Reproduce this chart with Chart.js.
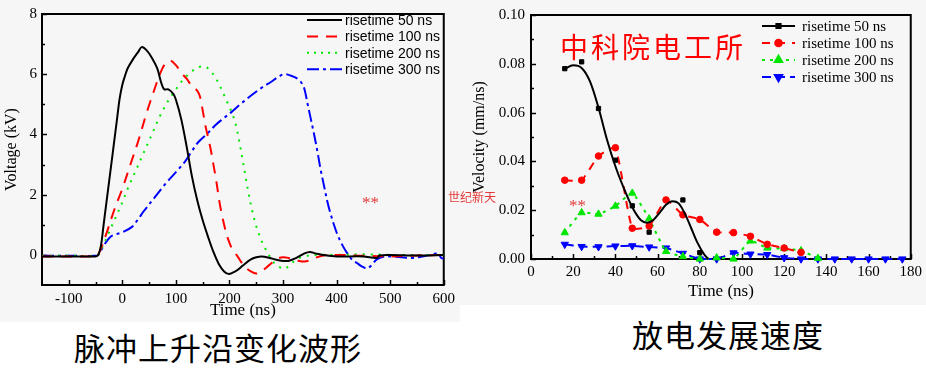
<!DOCTYPE html>
<html>
<head>
<meta charset="utf-8">
<script src="https://cdn.jsdelivr.net/npm/chart.js@4.4.1/dist/chart.umd.min.js"></script>
<style>
    html, body { margin: 0; padding: 0; background: #fff; }
    #page { position: relative; width: 926px; height: 382px; overflow: hidden; background: #fff; }
    .panel { position: absolute; background: #f6f6f6; }
    #leftPanel { left: 0; top: 0; width: 460px; height: 322px; }
    #rightPanel { left: 460px; top: 0; width: 466px; height: 305px; }
    .txt { position: absolute; white-space: nowrap; line-height: 1; }
    .cap { font-family: 'Noto Sans CJK SC', sans-serif; font-size: 31px; color: #000; letter-spacing: 1px; }
    .mark { font-family: 'Noto Sans CJK SC', sans-serif; font-size: 12px; color: #e23a3a; }
    .star { font-family: 'Liberation Serif', serif; font-size: 17px; color: #e23a3a; }
</style>
</head>
<body>
<div id="page">
    <div class="panel" id="leftPanel"><canvas id="waveChart" width="460" height="322"></canvas></div>
    <div class="panel" id="rightPanel"><canvas id="speedChart" width="466" height="305"></canvas></div>

    <div class="txt star" style="left:362px; top:194px;">**</div>
    <div class="txt mark" style="left:448px; top:191px;">世纪新天</div>
    <div class="txt star" style="left:569px; top:197px;">**</div>
    <div class="txt" style="left:560px; top:32px; font-family:'Noto Sans CJK SC'; font-size:28px; color:#ff0000; letter-spacing:3px;">中科院电工所</div>

    <div class="txt cap" style="left:74px; top:331px;">脉冲上升沿变化波形</div>
    <div class="txt cap" style="left:632px; top:318px;">放电发展速度</div>
</div>

<script>
// ---- 左圖：脈衝上升沿波形 ----
const seriesLabels = ['risetime 50 ns', 'risetime 100 ns', 'risetime 200 ns', 'risetime 300 ns'];

const waveT50 = [-150, -100, -50, -45, -40, -35, -30, -25, -20, -15, -10, -5, 0, 5, 10, 20, 30, 36, 45, 55, 65, 72, 78, 86, 95, 100, 110, 120, 130, 140, 150, 160, 170, 180, 190, 198, 205, 215, 225, 240, 250, 260, 275, 285, 300, 310, 325, 340, 350, 360, 375, 400, 450, 475, 480, 500, 550, 600];
const waveV50 = [-0.05, -0.05, -0.05, 0, 0.3, 1.0, 1.7, 2.4, 3.1, 3.8, 4.5, 5.2, 5.65, 5.95, 6.2, 6.5, 6.75, 6.9, 6.8, 6.55, 6.2, 5.75, 5.5, 5.5, 5.35, 5.15, 4.5, 3.6, 2.6, 1.8, 1.15, 0.6, 0.1, -0.3, -0.55, -0.63, -0.6, -0.5, -0.35, -0.15, -0.08, -0.05, -0.1, -0.15, -0.2, -0.2, -0.1, 0.05, 0.1, 0.05, 0, -0.05, -0.05, -0.1, -0.02, 0, -0.02, 0];

const waveT100 = [-150, -100, -50, -45, -30, -15, 0, 15, 30, 45, 60, 70, 80, 90, 100, 110, 120, 130, 140, 145, 150, 155, 160, 165, 170, 175, 180, 185, 190, 195, 200, 205, 215, 228, 240, 250, 260, 270, 280, 290, 300, 310, 320, 330, 340, 350, 360, 375, 400, 450, 500, 550, 600];
const waveV100 = [-0.05, -0.05, -0.05, 0, 0.7, 1.5, 2.2, 3.0, 3.8, 4.7, 5.5, 6.0, 6.35, 6.45, 6.3, 6.05, 5.85, 5.6, 5.45, 5.25, 4.8, 4.3, 3.9, 3.5, 3.0, 2.5, 1.9, 1.4, 1.0, 0.65, 0.4, 0.2, -0.05, -0.38, -0.55, -0.62, -0.55, -0.4, -0.25, -0.12, -0.08, -0.1, -0.15, -0.2, -0.22, -0.18, -0.1, -0.02, 0, -0.03, -0.05, -0.02, 0];

const waveT200 = [-150, -100, -50, -45, -35, -25, -15, 0, 10, 25, 40, 55, 70, 85, 100, 115, 130, 145, 155, 165, 175, 185, 195, 205, 212, 218, 224, 230, 236, 242, 250, 258, 265, 275, 285, 295, 302, 312, 325, 340, 360, 400, 450, 500, 600];
const waveV200 = [-0.03, -0.03, -0.03, 0, 0.35, 0.75, 1.15, 1.75, 2.2, 2.8, 3.4, 4.0, 4.6, 5.1, 5.5, 5.85, 6.1, 6.25, 6.25, 6.1, 5.85, 5.5, 5.1, 4.7, 4.3, 3.8, 3.2, 2.6, 2.0, 1.5, 0.95, 0.55, 0.27, -0.05, -0.3, -0.42, -0.47, -0.35, -0.15, -0.05, 0, 0, 0.02, 0, 0];

const waveT300 = [-150, -100, -50, -45, -35, -25, -18, 0, 18, 30, 40, 60, 80, 100, 117, 130, 142, 160, 173, 190, 204, 220, 241, 260, 278, 290, 302, 315, 327, 335, 340, 346, 352, 358, 364, 370, 377, 383, 389, 395, 401, 410, 420, 430, 438, 447, 457, 465, 475, 490, 500, 520, 543, 560, 580, 590, 595, 600];
const waveV300 = [-0.03, -0.03, -0.03, 0, 0.3, 0.55, 0.65, 0.75, 0.93, 1.2, 1.45, 1.9, 2.35, 2.75, 3.1, 3.45, 3.75, 4.05, 4.3, 4.55, 4.75, 5.0, 5.3, 5.55, 5.75, 5.9, 6.0, 5.95, 5.85, 5.7, 5.5, 5.0, 4.5, 4.0, 3.45, 2.85, 2.25, 1.75, 1.35, 1.0, 0.7, 0.35, 0.05, -0.18, -0.27, -0.38, -0.45, -0.35, -0.15, -0.05, -0.05, -0.08, -0.1, -0.05, 0.02, 0.05, -0.1, -0.12];

const waveXTicks = [-100, 0, 100, 200, 300, 400, 500, 600];
const waveXMinor = [-50, 50, 150, 250, 350, 450, 550];
const waveYTicks = [0, 2, 4, 6, 8];
const waveYMinor = [1, 3, 5, 7];

// ---- 右圖：放電發展速度 ----
const vel50Time = [16, 24, 32, 40, 48, 56, 72, 80];
const vel50 = [0.078, 0.0808, 0.0617, 0.0405, 0.0218, 0.011, 0.0242, 0.0026];
const vel50FitTime = [16, 20, 24, 28, 32, 36, 40, 44, 48, 52, 55, 58, 61, 64, 67, 70, 73, 76, 79, 82, 84];
const vel50Fit = [0.078, 0.0794, 0.0783, 0.0727, 0.062, 0.049, 0.038, 0.029, 0.0212, 0.016, 0.0149, 0.016, 0.019, 0.0222, 0.0237, 0.0228, 0.0185, 0.0125, 0.0065, 0.002, 0];

const vel100Time = [16, 24, 32, 40, 48, 56, 64, 72, 80, 88, 96, 104, 112, 120, 128];
const vel100 = [0.0323, 0.0323, 0.0422, 0.0456, 0.0126, 0.0135, 0.0242, 0.0181, 0.0162, 0.011, 0.0108, 0.0093, 0.006, 0.0045, 0.0027];

const vel200Time = [16, 24, 32, 40, 48, 56, 64, 72, 80, 88, 96, 104, 112, 120, 128, 136];
const vel200 = [0.0108, 0.019, 0.0184, 0.0217, 0.027, 0.0165, 0.0031, 0.001, 0, 0.0005, 0, 0.0074, 0.0045, 0.0043, 0.0034, 0.0003];

const vel300Time = [16, 24, 32, 40, 48, 56, 64, 72, 80, 88, 96, 104, 112, 120, 128, 136, 144, 152, 160, 168, 176];
const vel300 = [0.006, 0.0051, 0.005, 0.0053, 0.0054, 0.0049, 0.0045, 0.0023, 0, 0, 0.0025, 0.002, 0.0018, 0.0005, 0, 0, 0, 0, 0, 0, 0];

const velXTicks = [0, 20, 40, 60, 80, 100, 120, 140, 160, 180];
const velXMinor = [10, 30, 50, 70, 90, 110, 130, 150, 170];
const velYTicks = [0, 0.02, 0.04, 0.06, 0.08, 0.10];
const velYMinor = [0.01, 0.03, 0.05, 0.07, 0.09];

const pts = (xs, ys) => xs.map((x, i) => ({ x: x, y: ys[i] }));

const SERIF = "'Liberation Serif', 'Times New Roman', serif";
const SANS = "'Liberation Sans', Arial, sans-serif";
const GREEN = '#00e600';

Chart.defaults.font.family = SERIF;
Chart.defaults.color = '#000';

// 內向刻度 + 外框
const frameTicks = {
    id: 'frameTicks',
    beforeDatasetsDraw(chart, args, opts) {
        const { ctx, chartArea: a, scales: { x, y } } = chart;
        ctx.save();
        ctx.strokeStyle = '#000';
        ctx.lineWidth = 1.5;
        const tick = (scale, vals, len) => vals.forEach(v => {
            const p = Math.round(scale.getPixelForValue(v)) + 0.5;
            ctx.beginPath();
            if (scale.axis === 'x') { ctx.moveTo(p, a.bottom); ctx.lineTo(p, a.bottom - len); }
            else { ctx.moveTo(a.left, p); ctx.lineTo(a.left + len, p); }
            ctx.stroke();
        });
        tick(x, opts.xMajor, 5);
        tick(x, opts.xMinor, 3);
        tick(y, opts.yMajor, 5);
        tick(y, opts.yMinor, 3);
        ctx.lineWidth = 2;
        ctx.strokeRect(a.left, a.top, a.width, a.height);
        ctx.restore();
    }
};

// 圖例：線段 (+ 標記點) + 文字
const lineLegend = {
    id: 'lineLegend',
    afterDraw(chart, args, opts) {
        const { ctx } = chart;
        ctx.save();
        ctx.font = opts.font;
        ctx.textBaseline = 'middle';
        opts.items.forEach((it, i) => {
            const y = opts.y + i * opts.gap;
            ctx.strokeStyle = it.color;
            ctx.fillStyle = it.color;
            ctx.lineWidth = 2;
            ctx.setLineDash(it.dash || []);
            ctx.beginPath();
            ctx.moveTo(opts.x1, y);
            ctx.lineTo(opts.x2, y);
            ctx.stroke();
            ctx.setLineDash([]);
            if (it.marker) {
                Chart.helpers.drawPoint(ctx, { pointStyle: it.marker, radius: it.radius, rotation: it.rotation || 0, borderWidth: 1 }, (opts.x1 + opts.x2) / 2, y);
            }
            ctx.fillStyle = '#000';
            ctx.fillText(it.label, opts.textX, y + 1);
        });
        ctx.restore();
    }
};

const fixedSize = (w, h) => s => {
    if (s.isHorizontal()) s.height = h; else s.width = w;
};

// ---- 左圖 ----
new Chart(document.getElementById('waveChart').getContext('2d'), {
    type: 'line',
    data: {
        datasets: [
            { label: seriesLabels[0], data: pts(waveT50, waveV50), borderColor: '#000000', borderWidth: 2, tension: 0.35 },
            { label: seriesLabels[1], data: pts(waveT100, waveV100), borderColor: '#ff0000', borderWidth: 2, borderDash: [11, 8], tension: 0.35 },
            { label: seriesLabels[2], data: pts(waveT200, waveV200), borderColor: GREEN, borderWidth: 2, borderDash: [2, 6], tension: 0.35 },
            { label: seriesLabels[3], data: pts(waveT300, waveV300), borderColor: '#0000ff', borderWidth: 2, borderDash: [12, 4, 3, 4], tension: 0.35 }
        ]
    },
    options: {
        responsive: false,
        animation: false,
        elements: { point: { radius: 0 } },
        layout: { padding: { top: 11, right: 13, left: 0, bottom: 0 } },
        scales: {
            x: {
                type: 'linear', min: -150, max: 600,
                afterBuildTicks: s => { s.ticks = waveXTicks.map(v => ({ value: v })); },
                afterFit: fixedSize(42, 37),
                grid: { display: false, drawTicks: false },
                border: { display: false },
                ticks: { color: '#000', padding: 5, font: { family: SERIF, size: 15 } },
                title: { display: true, text: 'Time (ns)', color: '#000', padding: { top: 0, bottom: 1 }, font: { family: SERIF, size: 17 } }
            },
            y: {
                type: 'linear', min: -1, max: 8,
                afterBuildTicks: s => { s.ticks = waveYTicks.map(v => ({ value: v })); },
                afterFit: fixedSize(42, 37),
                grid: { display: false, drawTicks: false },
                border: { display: false },
                ticks: { color: '#000', padding: 5, font: { family: SERIF, size: 15 } },
                title: { display: true, text: 'Voltage (kV)', color: '#000', padding: { top: 2, bottom: 0 }, font: { family: SERIF, size: 16 } }
            }
        },
        plugins: {
            legend: { display: false },
            tooltip: { enabled: false },
            frameTicks: { xMajor: waveXTicks, xMinor: waveXMinor, yMajor: waveYTicks, yMinor: waveYMinor },
            lineLegend: {
                font: '14px ' + SANS, x1: 307, x2: 342, textX: 345, y: 20, gap: 16.4,
                items: [
                    { label: seriesLabels[0], color: '#000000' },
                    { label: seriesLabels[1], color: '#ff0000', dash: [11, 8] },
                    { label: seriesLabels[2], color: GREEN, dash: [2, 5] },
                    { label: seriesLabels[3], color: '#0000ff', dash: [12, 4, 3, 4] }
                ]
            }
        }
    },
    plugins: [frameTicks, lineLegend]
});

// ---- 右圖 ----
new Chart(document.getElementById('speedChart').getContext('2d'), {
    type: 'line',
    data: {
        datasets: [
            { label: 'fit', data: pts(vel50FitTime, vel50Fit), borderColor: '#000', borderWidth: 2, pointRadius: 0, cubicInterpolationMode: 'monotone' },
            { label: seriesLabels[0], data: pts(vel50Time, vel50), showLine: false, pointStyle: 'rect', pointRadius: 3, borderColor: '#000', backgroundColor: '#000' },
            { label: seriesLabels[1], data: pts(vel100Time, vel100), borderColor: '#ff0000', backgroundColor: '#ff0000', borderWidth: 2, borderDash: [8, 7], pointStyle: 'circle', pointRadius: 3.3, pointBorderWidth: 1, tension: 0.15 },
            { label: seriesLabels[2], data: pts(vel200Time, vel200), borderColor: GREEN, backgroundColor: GREEN, borderWidth: 2, borderDash: [3, 5], pointStyle: 'triangle', pointRadius: 4.2, pointBorderWidth: 1, tension: 0.15 },
            { label: seriesLabels[3], data: pts(vel300Time, vel300), borderColor: '#0000ff', backgroundColor: '#0000ff', borderWidth: 2, borderDash: [9, 5], pointStyle: 'triangle', pointRotation: 180, pointRadius: 4.2, pointBorderWidth: 1, tension: 0.15 }
        ]
    },
    options: {
        responsive: false,
        animation: false,
        clip: false,
        layout: { padding: { top: 13, right: 14, left: 0, bottom: 0 } },
        scales: {
            x: {
                type: 'linear', min: 0, max: 180,
                afterBuildTicks: s => { s.ticks = velXTicks.map(v => ({ value: v })); },
                afterFit: fixedSize(71, 46),
                grid: { display: false, drawTicks: false },
                border: { display: false },
                ticks: { color: '#000', padding: 4, font: { family: SERIF, size: 15 } },
                title: { display: true, text: 'Time (ns)', color: '#000', padding: { top: 0, bottom: 3 }, font: { family: SERIF, size: 17 } }
            },
            y: {
                type: 'linear', min: 0, max: 0.10,
                afterBuildTicks: s => { s.ticks = velYTicks.map(v => ({ value: v })); },
                afterFit: fixedSize(71, 46),
                grid: { display: false, drawTicks: false },
                border: { display: false },
                ticks: { color: '#000', padding: 6, font: { family: SERIF, size: 15 }, callback: v => v.toFixed(2) },
                title: { display: true, text: 'Velocity (mm/ns)', color: '#000', padding: { top: 10, bottom: 0 }, font: { family: SERIF, size: 16 } }
            }
        },
        plugins: {
            legend: { display: false },
            tooltip: { enabled: false },
            frameTicks: { xMajor: velXTicks, xMinor: velXMinor, yMajor: velYTicks, yMinor: velYMinor },
            lineLegend: {
                font: '15px ' + SERIF, x1: 302, x2: 335, textX: 342, y: 26, gap: 17,
                items: [
                    { label: seriesLabels[0], color: '#000000', marker: 'rect', radius: 3 },
                    { label: seriesLabels[1], color: '#ff0000', dash: [8, 7], marker: 'circle', radius: 3.3 },
                    { label: seriesLabels[2], color: GREEN, dash: [3, 5], marker: 'triangle', radius: 4.2 },
                    { label: seriesLabels[3], color: '#0000ff', dash: [9, 5], marker: 'triangle', radius: 4.2, rotation: 180 }
                ]
            }
        }
    },
    plugins: [frameTicks, lineLegend]
});
</script>
</body>
</html>
